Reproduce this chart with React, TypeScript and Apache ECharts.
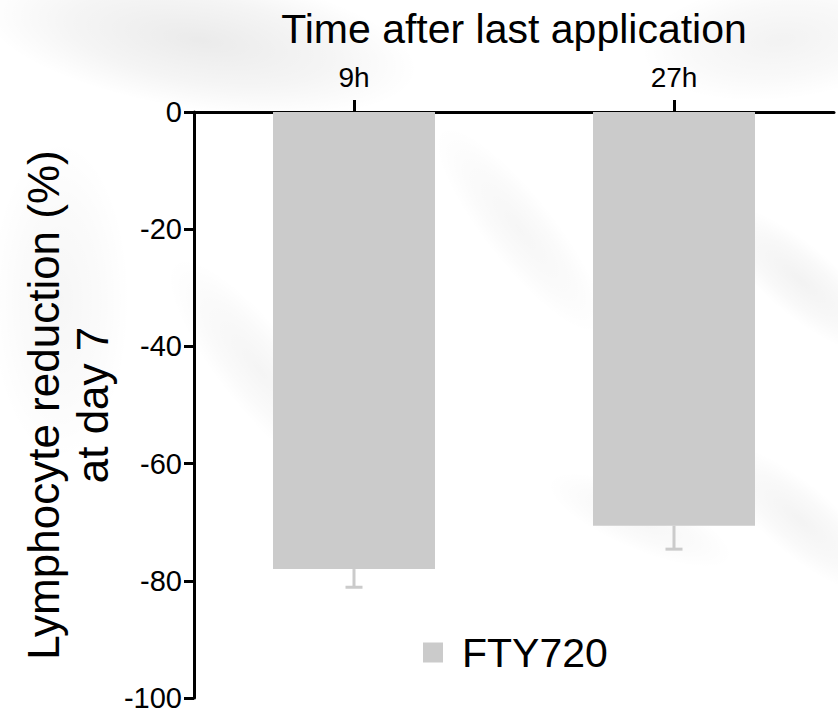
import React, { useEffect, useRef } from "react";
import * as echarts from "echarts";

const categories = ["9h", "27h"];
const barValues = [-78.0, -70.6];
const errorLow = [-81.1, -74.6];
const seriesName = "FTY720";
const xAxisTitle = "Time after last application";
const yAxisTitle = "Lymphocyte reduction (%)\nat day 7";

const FONT = "'Liberation Sans', Arial, Helvetica, sans-serif";
const BAR_COLOR = "#cbcbcb";

function blob(cx: number, cy: number, rx: number, ry: number, rot: number, alpha: number) {
  return {
    type: "ellipse",
    silent: true,
    z: -10,
    x: cx,
    y: cy,
    rotation: rot,
    shape: { cx: 0, cy: 0, rx, ry },
    style: {
      fill: new echarts.graphic.RadialGradient(0.5, 0.5, 0.5, [
        { offset: 0, color: `rgba(0,0,0,${alpha})` },
        { offset: 0.6, color: `rgba(0,0,0,${alpha * 0.5})` },
        { offset: 1, color: "rgba(0,0,0,0)" },
      ]),
    },
  };
}

export default function App() {
  const ref = useRef<HTMLDivElement>(null);
  useEffect(() => {
    if (!ref.current) return;
    const chart = echarts.init(ref.current, null, { renderer: "svg" });
    const option: any = {
      animation: false,
      backgroundColor: "#ffffff",
      textStyle: { fontFamily: FONT, color: "#000" },
      graphic: [
        blob(200, 40, 220, 70, -0.15, 0.08),
        blob(780, 40, 140, 60, 0.1, 0.05),
        blob(260, 370, 140, 40, -0.9, 0.04),
        blob(520, 230, 130, 35, -0.9, 0.035),
        blob(800, 280, 110, 35, -0.7, 0.05),
        blob(800, 520, 110, 35, -0.7, 0.045),
        blob(640, 520, 100, 30, -0.4, 0.035),
        blob(60, 300, 70, 160, 0, 0.035),
      ],
      legend: {
        data: [seriesName],
        left: 423,
        top: 632,
        padding: 0,
        icon: "rect",
        itemWidth: 20,
        itemHeight: 20,
        textStyle: { fontSize: 41, color: "#000", fontFamily: FONT, padding: [0, 0, 0, 14] },
      },
      grid: { left: 194, right: 4, top: 112, bottom: 13, containLabel: false, outerBoundsMode: "none" },
      xAxis: {
        type: "category",
        position: "top",
        data: categories,
        name: xAxisTitle,
        nameLocation: "middle",
        nameGap: 63,
        nameMoveOverlap: false,
        nameTextStyle: { fontSize: 41, color: "#000", fontFamily: FONT },
        axisLine: { show: true, onZero: false, lineStyle: { color: "#000", width: 3 } },
        axisTick: { show: true, alignWithLabel: true, inside: false, length: 12, lineStyle: { color: "#000", width: 3 } },
        axisLabel: { fontSize: 28, color: "#000", margin: 21, fontFamily: FONT },
        splitLine: { show: false },
      },
      yAxis: {
        type: "value",
        min: -100,
        max: 0,
        interval: 20,
        name: yAxisTitle,
        nameLocation: "middle",
        nameRotate: 90,
        nameGap: 77,
        nameMoveOverlap: false,
        nameTextStyle: { fontSize: 44, lineHeight: 49, color: "#000", fontFamily: FONT, align: "center" },
        axisLine: { show: true, lineStyle: { color: "#000", width: 3 } },
        axisTick: { show: true, inside: false, length: 10, lineStyle: { color: "#000", width: 3 } },
        axisLabel: { fontSize: 29, lineHeight: 24, color: "#000", margin: 12, fontFamily: FONT },
        splitLine: { show: false },
      },
      series: [
        {
          name: seriesName,
          type: "bar",
          data: barValues,
          barWidth: 162,
          itemStyle: { color: BAR_COLOR },
        },
        {
          name: "err",
          type: "custom",
          data: categories.map((_, i) => [i, errorLow[i], barValues[i]]),
          renderItem: (params: any, api: any) => {
            const x = api.value(0);
            const lo = api.value(1);
            const hi = api.value(2);
            const p1 = api.coord([x, hi]);
            const p2 = api.coord([x, lo]);
            const style = { stroke: BAR_COLOR, lineWidth: 3 };
            return {
              type: "group",
              children: [
                { type: "line", shape: { x1: p1[0], y1: p1[1], x2: p2[0], y2: p2[1] }, style },
                { type: "line", shape: { x1: p2[0] - 8.5, y1: p2[1], x2: p2[0] + 8.5, y2: p2[1] }, style },
              ],
            };
          },
          z: 1,
        },
      ],
    };
    chart.setOption(option);
    return () => chart.dispose();
  }, []);
  return (
    <div
      ref={ref}
      style={{ position: "fixed", left: 0, top: 0, width: 838, height: 711 }}
    />
  );
}
